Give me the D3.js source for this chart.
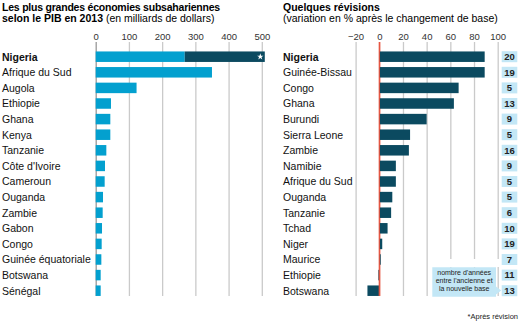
<!DOCTYPE html>
<meta charset="utf-8">
<style>
body { margin: 0; background: #fff; }
svg { font-family: "Liberation Sans", Arial, sans-serif; }
.tick text { font-family: "Liberation Sans Narrow", "Liberation Sans", sans-serif; font-size: 9.5px; fill: #333; }
.lab { font-size: 10.5px; fill: #111; }
</style>
<body>
<script src="https://cdnjs.cloudflare.com/ajax/libs/d3/7.8.5/d3.min.js"></script>
<script>
var width = 523
var height = 326

// left panel: GDP 2013, bn dollars
var gdpCountries = ['Nigeria', 'Afrique du Sud', 'Augola', 'Ethiopie', 'Ghana', 'Kenya', 'Tanzanie',
    'Côte d\'Ivoire', 'Cameroun', 'Ouganda', 'Zambie', 'Gabon', 'Congo', 'Guinée équatoriale',
    'Botswana', 'Sénégal']
var gdpValues = [268, 350, 123, 46, 44, 44, 32, 28, 27, 22, 21, 19, 18, 17, 15, 15]
var nigeriaRevised = 509
var gdpTicks = [0, 100, 200, 300, 400, 500]

// right panel: revision in %
var revCountries = ['Nigeria', 'Guinée-Bissau', 'Congo', 'Ghana', 'Burundi', 'Sierra Leone', 'Zambie',
    'Namibie', 'Afrique du Sud', 'Ouganda', 'Tanzanie', 'Tchad', 'Niger', 'Maurice', 'Ethiopie', 'Botswana']
var revValues = [89, 89, 67, 63, 40, 26, 25, 14, 14, 11, 10, 7, 2.5, 1.2, -0.8, -10]
var revYears = [20, 19, 5, 13, 9, 5, 16, 9, 5, 5, 6, 10, 19, 7, 11, 13]
var revTicks = [-20, 0, 20, 40, 60, 80, 100]

var light = '#03a0cf'
var dark = '#0b4a60'
var pale = '#c3e7f6'
var grid = '#cacaca'

var gridTop = 42
var gridBottom = 296
var barH = 10.5

var svg = d3.select('body').append('svg')
    .attr('width', width)
    .attr('height', height)

// titles
var t1 = svg.append('text').attr('x', 2).attr('y', 10.5).style('font-size', '10.5px')
    .style('letter-spacing', '-0.22px')
t1.append('tspan').attr('font-weight', 'bold').text('Les plus grandes économies subsahariennes')
var t2 = svg.append('text').attr('x', 2).attr('y', 22).style('font-size', '10.5px')
t2.append('tspan').attr('font-weight', 'bold').text('selon le PIB en 2013 ')
t2.append('tspan').text('(en milliards de dollars)')

svg.append('text').attr('x', 283).attr('y', 10.5).style('font-size', '10.5px')
    .attr('font-weight', 'bold').text('Quelques révisions')
svg.append('text').attr('x', 283).attr('y', 22).style('font-size', '10.5px')
    .text('(variation en % après le changement de base)')

var y1 = d3.scalePoint().domain(gdpCountries).range([56.7, 290.7])
var y2 = d3.scalePoint().domain(revCountries).range([56.7, 290.7])

// ---- left panel
var x1 = d3.scaleLinear().domain([0, 500]).range([95.7, 261.8])

var ax1 = svg.append('g')
    .attr('transform', 'translate(0,' + gridTop + ')')
    .call(d3.axisTop(x1).tickValues(gdpTicks).tickSize(-(gridBottom - gridTop)).tickPadding(2))
ax1.select('.domain').remove()
ax1.selectAll('.tick line')
    .attr('stroke', function (d) { return d === 0 ? '#999' : grid })
    .attr('stroke-width', 1.3)

svg.append('g').selectAll('rect')
    .data(gdpValues)
    .enter().append('rect')
    .attr('x', x1(0))
    .attr('y', function (d, i) { return y1(gdpCountries[i]) - barH / 2 })
    .attr('width', function (d) { return x1(d) - x1(0) })
    .attr('height', barH)
    .attr('fill', light)

svg.append('rect')
    .attr('x', x1(gdpValues[0]))
    .attr('y', y1('Nigeria') - barH / 2)
    .attr('width', x1(nigeriaRevised) - x1(gdpValues[0]))
    .attr('height', barH)
    .attr('fill', dark)

svg.append('path')
    .attr('d', d3.symbol().type(d3.symbolStar).size(13))
    .attr('transform', 'translate(' + (x1(nigeriaRevised) - 4.5) + ',' + y1('Nigeria') + ')')
    .attr('fill', '#fff')

svg.append('g').selectAll('text')
    .data(gdpCountries)
    .enter().append('text')
    .attr('class', 'lab')
    .attr('x', 2)
    .attr('y', function (d) { return y1(d) + 3.8 })
    .attr('font-weight', function (d, i) { return i === 0 ? 'bold' : null })
    .text(function (d) { return d })

// ---- right panel
var x2 = d3.scaleLinear().domain([-20, 100]).range([355.6, 497.7])

var ax2 = svg.append('g')
    .attr('transform', 'translate(0,' + gridTop + ')')
    .call(d3.axisTop(x2).tickValues(revTicks).tickSize(-(gridBottom - gridTop)).tickPadding(2))
ax2.select('.domain').remove()
ax2.selectAll('.tick line')
    .attr('stroke', function (d) { return d === 0 ? '#e5533f' : grid })
    .attr('stroke-width', function (d) { return d === 0 ? 1.2 : 1.3 })

var bars2 = svg.append('g')
bars2.selectAll('rect')
    .data(revValues)
    .enter().append('rect')
    .attr('x', function (d) { return x2(Math.min(0, d)) })
    .attr('y', function (d, i) { return y2(revCountries[i]) - barH / 2 })
    .attr('width', function (d) { return Math.abs(x2(d) - x2(0)) })
    .attr('height', barH)
    .attr('fill', dark)

// red zero line on top of the bars
svg.append('line')
    .attr('x1', x2(0)).attr('x2', x2(0))
    .attr('y1', gridTop).attr('y2', gridBottom)
    .attr('stroke', '#e5533f')
    .attr('stroke-width', 1.2)

svg.append('g').selectAll('text')
    .data(revCountries)
    .enter().append('text')
    .attr('class', 'lab')
    .attr('x', 283)
    .attr('y', function (d) { return y2(d) + 3.8 })
    .attr('font-weight', function (d, i) { return i === 0 ? 'bold' : null })
    .text(function (d) { return d })

// years between old and new base
var yrs = svg.append('g').selectAll('g')
    .data(revYears)
    .enter().append('g')
    .attr('transform', function (d, i) { return 'translate(509.5,' + y2(revCountries[i]) + ')' })
yrs.append('rect')
    .attr('x', -7.8).attr('y', -5.5)
    .attr('width', 15.6).attr('height', 11)
    .attr('fill', pale)
yrs.append('text')
    .attr('text-anchor', 'middle')
    .attr('y', 3.3)
    .style('font-family', '"Liberation Sans Narrow", "Liberation Sans", sans-serif')
    .style('font-size', '9.5px')
    .attr('font-weight', 'bold')
    .attr('fill', '#222')
    .text(function (d) { return d })

// annotation box
var note = svg.append('g')
note.append('rect')
    .attr('x', 430).attr('y', 259)
    .attr('width', 70).attr('height', 8)
    .attr('fill', '#fff')
note.append('path')
    .attr('d', 'M432.3,267.3H496V286.5L501.2,290.5L496,294.5V296.7H432.3Z')
    .attr('fill', pale)
note.selectAll('text')
    .data(['nombre d\'années', 'entre l\'ancienne et', 'la nouvelle base'])
    .enter().append('text')
    .attr('x', 464.2)
    .attr('y', function (d, i) { return 274.5 + i * 8 })
    .attr('text-anchor', 'middle')
    .style('font-size', '7px')
    .attr('fill', '#222')
    .text(function (d) { return d })

svg.append('text')
    .attr('x', 518).attr('y', 319)
    .attr('text-anchor', 'end')
    .style('font-size', '7.5px')
    .attr('fill', '#222')
    .text('*Après révision')
</script>
</body>
